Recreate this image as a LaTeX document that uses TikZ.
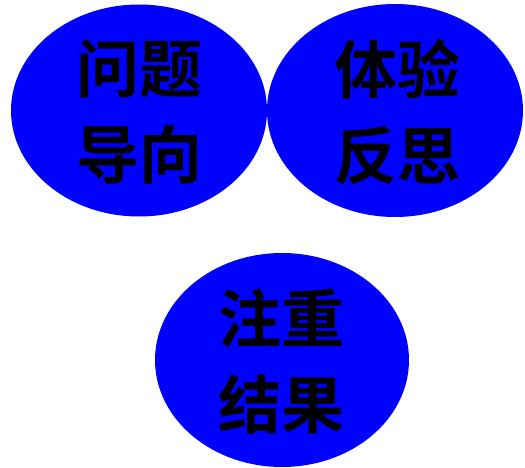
\documentclass[tikz,border=0pt]{standalone}
\usepackage{fontspec}
\newfontfamily\cjk{Noto Sans CJK SC Bold}
\begin{document}
\begin{tikzpicture}[x=1pt,y=-1pt,
  bubble/.style={ellipse, fill=blue, draw=none},
  label/.style={align=center, text=black, font=\cjk\fontsize{63}{86}\selectfont, inner sep=0pt}]
\useasboundingbox (0,0) rectangle (525,468);
\fill[blue] (139,110.5) ellipse [x radius=128, y radius=106];
\fill[blue] (395,110.5) ellipse [x radius=128, y radius=106.5];
\fill[blue] (282,360) ellipse [x radius=127, y radius=107];
\node[label] (a) at (139,112) {问题\\导向};
\node[label] (b) at (397,112) {体验\\反思};
\node[label] (c) at (281,361) {注重\\结果};
\end{tikzpicture}
\end{document}
